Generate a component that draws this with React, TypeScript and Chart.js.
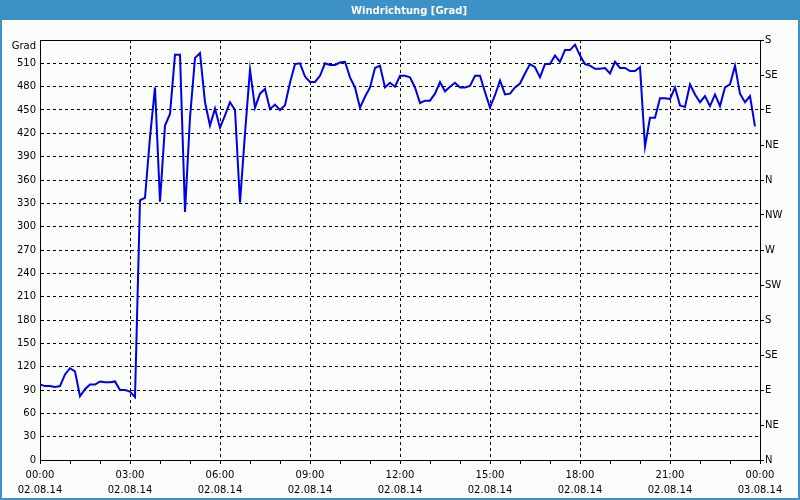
import React, { useEffect, useRef } from "react";
import { Chart, registerables } from "chart.js";

Chart.register(...registerables);

const TITLE = "Windrichtung [Grad]";
const UNIT_LABEL = "Grad";
const STEP_MINUTES = 10;
// wind direction every 10 minutes, 00:00 .. 23:50
const windDirection: number[] = [
  97, 95, 95, 94, 95, 110, 118, 114, 82, 91,
  97, 97, 101, 100, 100, 101, 90, 90, 88, 81,
  334, 337, 415, 479, 332, 430, 445, 521, 521, 319,
  440, 517, 523, 460, 430, 452, 427, 443, 460, 450,
  331, 420, 502, 453, 471, 477, 451, 457, 450, 456,
  485, 509, 510, 493, 486, 486, 494, 510, 508, 508,
  511, 512, 492, 479, 453, 467, 479, 504, 507, 479,
  485, 480, 494, 494, 492, 479, 459, 462, 462, 471,
  486, 474, 480, 485, 479, 479, 481, 494, 494, 473,
  453, 469, 488, 470, 471, 479, 484, 497, 509, 505,
  492, 509, 509, 520, 512, 527, 527, 534, 520, 509,
  507, 503, 503, 504, 497, 512, 504, 504, 500, 500,
  505, 403, 440, 440, 465, 465, 464, 479, 456, 454,
  483, 470, 460, 468, 455, 470, 455, 479, 483, 507,
  471, 460, 468, 429,
];
const timeLabels: string[] = ["00:00", "03:00", "06:00", "09:00", "12:00", "15:00", "18:00", "21:00", "00:00"];
const dateLabels: string[] = ["02.08.14", "02.08.14", "02.08.14", "02.08.14", "02.08.14", "02.08.14", "02.08.14", "02.08.14", "03.08.14"];
const compassLabels: string[] = ["N", "NE", "E", "SE", "S", "SW", "W", "NW", "N", "NE", "E", "SE", "S"];

const FONT = "DejaVu Sans";
const BLUE_BAR = "#3c91c6";
const BG = "#fbfdfb";

const framePlugin = {
  id: "frame",
  beforeDraw(chart: any) {
    const { ctx, width, height } = chart;
    ctx.save();
    ctx.fillStyle = BG;
    ctx.fillRect(0, 0, width, height);
    ctx.fillStyle = BLUE_BAR;
    ctx.fillRect(0, 0, width, 20);
    ctx.fillRect(0, 0, 2, height);
    ctx.fillRect(width - 2, 0, 2, height);
    ctx.fillRect(0, height - 2, width, 2);
    ctx.fillStyle = "#ffffff";
    ctx.font = `bold 10px "${FONT}"`;
    ctx.textAlign = "center";
    ctx.textBaseline = "middle";
    ctx.fillText(TITLE, 409, 11);
    ctx.restore();
  },
  afterDraw(chart: any) {
    const { ctx, chartArea } = chart;
    ctx.save();
    ctx.strokeStyle = "#000";
    ctx.lineWidth = 1;
    ctx.beginPath();
    ctx.moveTo(chartArea.left, Math.round(chartArea.top) + 0.5);
    ctx.lineTo(chartArea.right, Math.round(chartArea.top) + 0.5);
    ctx.stroke();
    ctx.fillStyle = "#000";
    ctx.font = `10px "${FONT}"`;
    ctx.textAlign = "right";
    ctx.textBaseline = "middle";
    ctx.fillText(UNIT_LABEL, chartArea.left - 4, chartArea.top + 6);
    ctx.restore();
  },
};

export default function App() {
  const ref = useRef<HTMLCanvasElement | null>(null);
  useEffect(() => {
    document.body.style.margin = "0";
    if (!ref.current) return;
    Chart.defaults.font.family = FONT;
    Chart.defaults.font.size = 10;
    Chart.defaults.color = "#000";
    const points = windDirection.map((v, i) => ({ x: i * STEP_MINUTES, y: v }));
    const chart = new Chart(ref.current, {
      type: "line",
      data: {
        datasets: [
          {
            data: points,
            borderColor: "#0000e6",
            borderWidth: 2,
            pointRadius: 0,
            tension: 0,
            fill: false,
            yAxisID: "y",
          },
        ],
      },
      options: {
        responsive: false,
        animation: false,
        events: [],
        layout: { padding: { top: 40, left: 0, right: 0, bottom: 0 } },
        plugins: { legend: { display: false }, tooltip: { enabled: false }, title: { display: false } },
        scales: {
          x: {
            type: "linear",
            min: 0,
            max: 1440,
            afterFit: (s: any) => { s.height = 40; },
            border: { display: true, color: "#000", width: 1, dash: [3, 3] },
            grid: {
              color: (c: any) => (c.tick && c.tick.value % 180 === 0 ? "#000" : "rgba(0,0,0,0)"),
              tickColor: "#000",
              tickLength: 4,
              drawTicks: true,
            },
            ticks: {
              stepSize: 60,
              autoSkip: false,
              maxRotation: 0,
              padding: 4,
              font: { size: 10, lineHeight: 1.5 },
              callback: (v: any) => {
                const n = Number(v);
                if (n % 180 !== 0) return "";
                const i = n / 180;
                return [timeLabels[i], dateLabels[i]];
              },
            },
          },
          y: {
            type: "linear",
            position: "left",
            min: 0,
            max: 540,
            afterFit: (s: any) => { s.width = 40; },
            border: { display: true, color: "#000", width: 1, dash: [3, 3] },
            grid: { color: "#000", drawTicks: false },
            ticks: {
              stepSize: 30,
              padding: 4,
              callback: (v: any) => (Number(v) === 540 ? "" : String(v)),
            },
          },
          y2: {
            type: "linear",
            position: "right",
            min: 0,
            max: 540,
            afterFit: (s: any) => { s.width = 40; },
            border: { display: true, color: "#000", width: 1 },
            grid: { drawOnChartArea: false, drawTicks: true, tickLength: 4, tickColor: "#000" },
            ticks: {
              stepSize: 45,
              padding: 1,
              callback: (v: any) => compassLabels[Math.round(Number(v) / 45)] ?? "",
            },
          },
        },
      },
      plugins: [framePlugin],
    });
    return () => chart.destroy();
  }, []);
  return <canvas ref={ref} width={800} height={500} style={{ display: "block" }} />;
}
